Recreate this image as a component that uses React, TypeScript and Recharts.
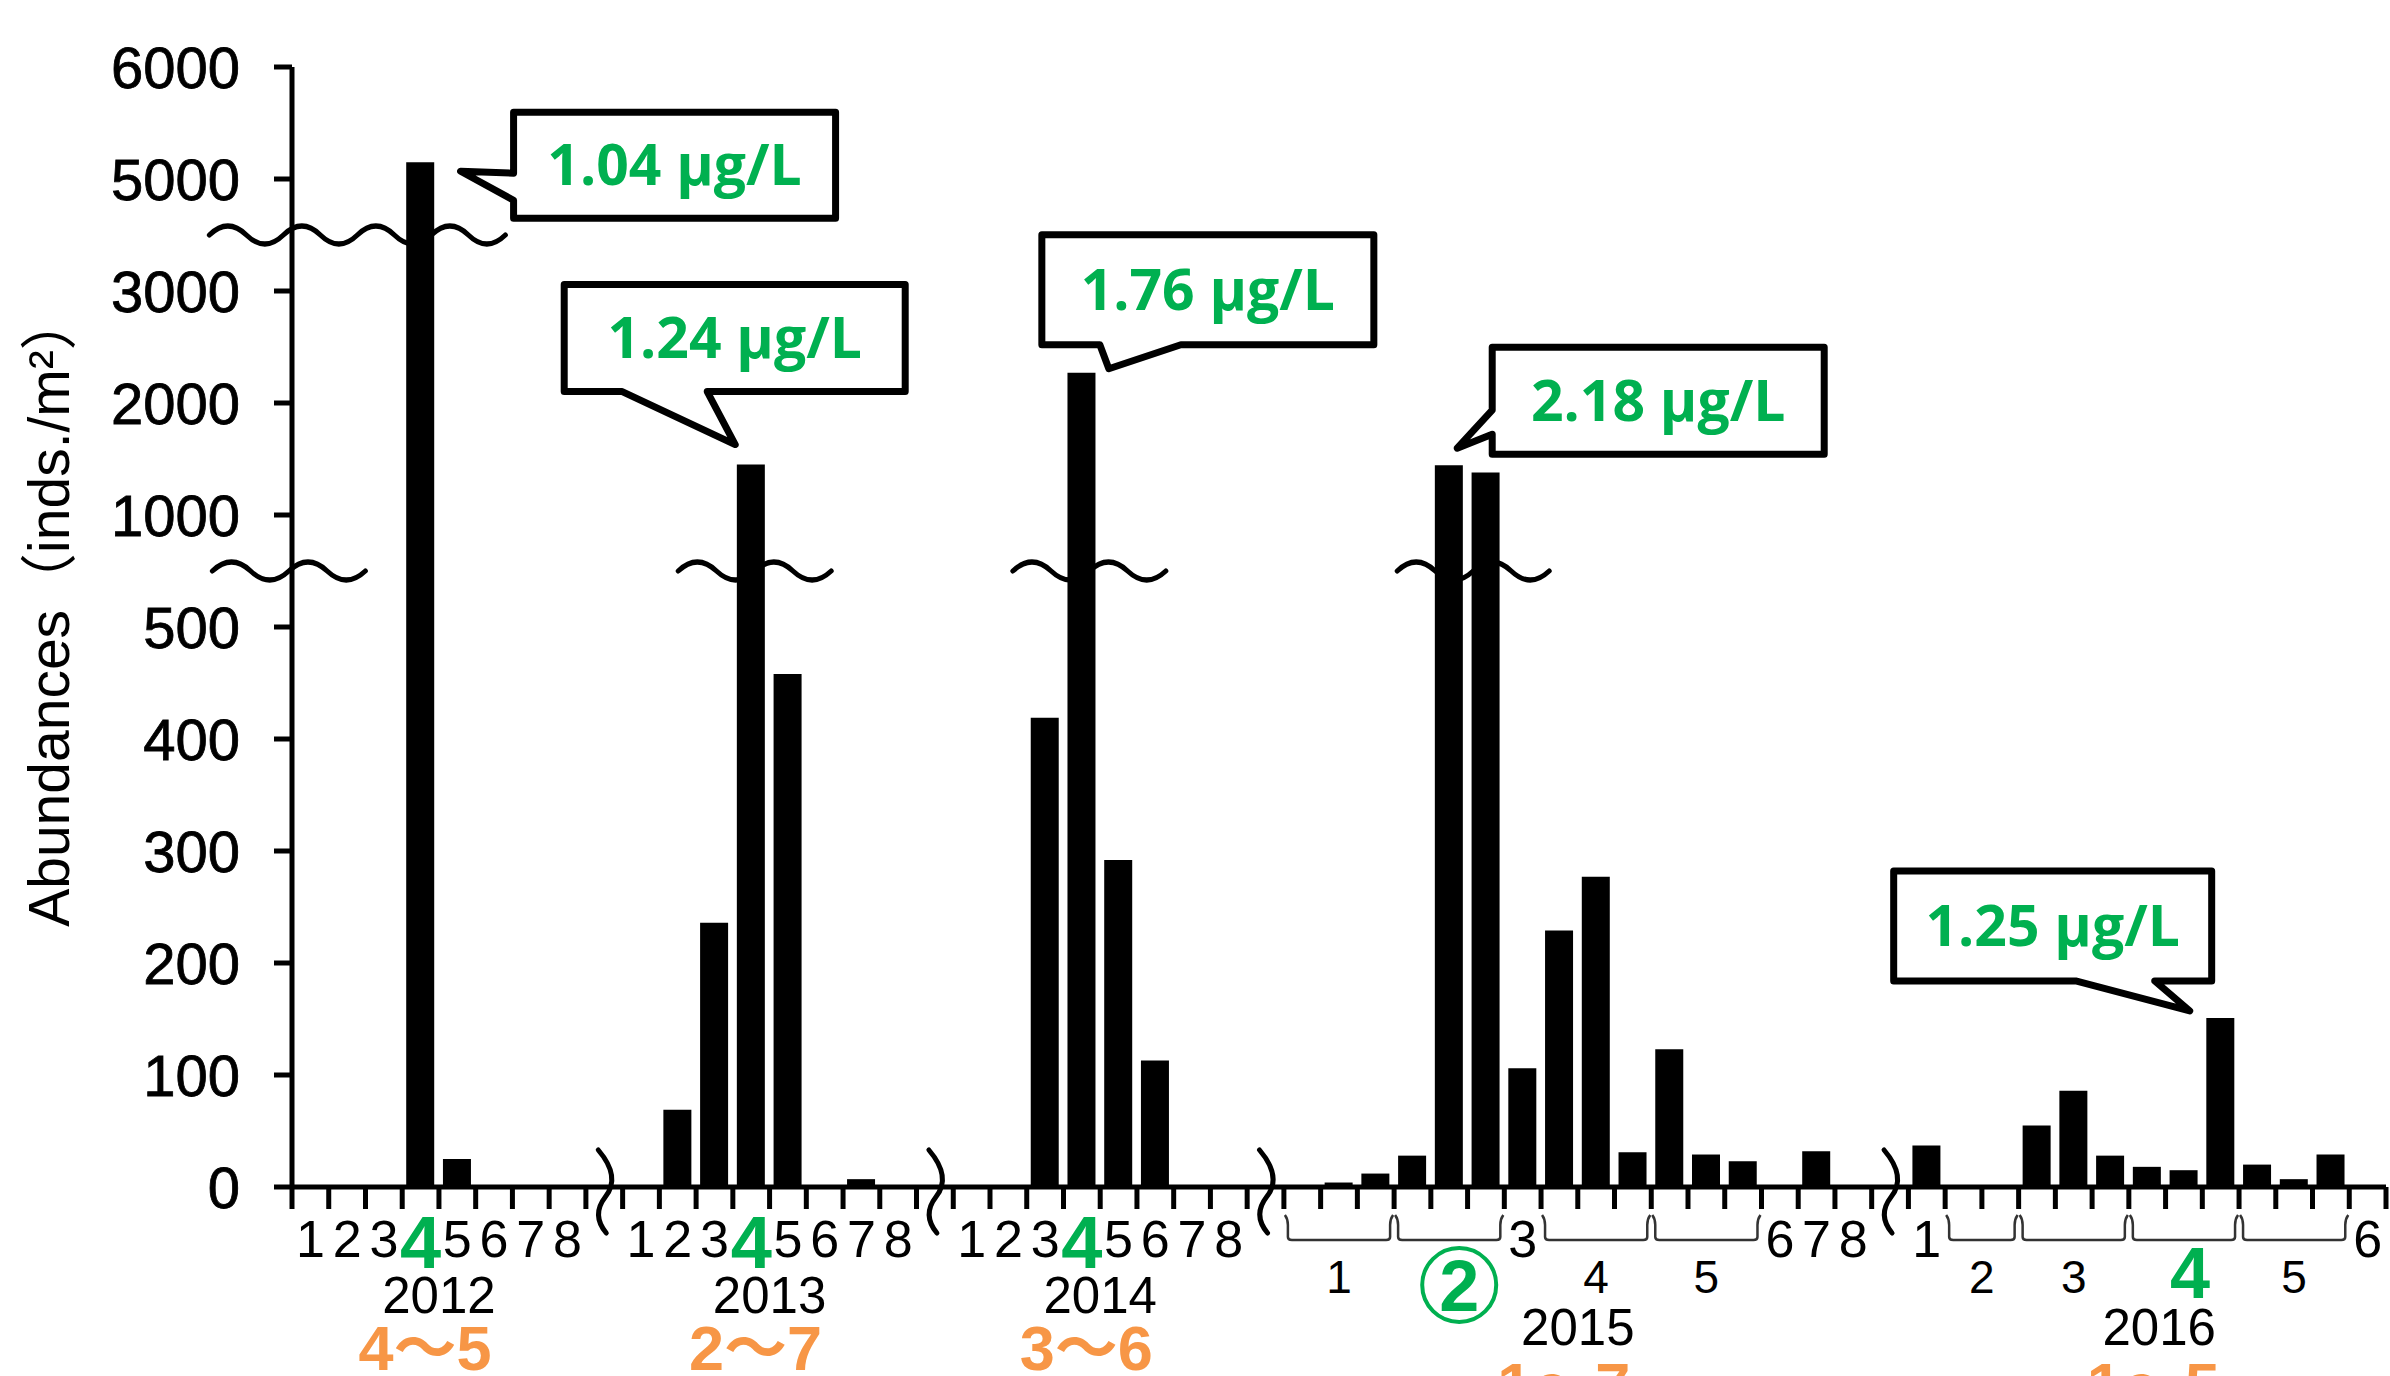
import React from 'react';
import { BarChart, Bar, XAxis, YAxis, ReferenceDot } from 'recharts';

// sampling years and the range of months sampled
const years = ['2012', '2013', '2014', '2015', '2016'];
const monthRanges = ['4～5', '2～7', '3～6', '1～7', '1～5'];

// month labels per year and how many samples fall in each month
const months = [
  ['1', '2', '3', '4', '5', '6', '7', '8'],
  ['1', '2', '3', '4', '5', '6', '7', '8'],
  ['1', '2', '3', '4', '5', '6', '7', '8'],
  ['1', '2', '3', '4', '5', '6', '7', '8'],
  ['1', '2', '3', '4', '5', '6'],
];
const samplesPerMonth = [
  [1, 1, 1, 1, 1, 1, 1, 1],
  [1, 1, 1, 1, 1, 1, 1, 1],
  [1, 1, 1, 1, 1, 1, 1, 1],
  [3, 3, 1, 3, 3, 1, 1, 1],
  [1, 2, 3, 3, 3, 1],
];

// abundances (inds./m2)
const abundance2012 = [0, 0, 0, 5150, 25, 0, 0, 0];
const abundance2013 = [0, 69, 236, 1450, 458, 0, 7, 0];
const abundance2014 = [0, 0, 419, 2270, 292, 113, 0, 0];
const abundance2015 = [0, 4, 12, 28, 1445, 1380, 106, 229, 277, 31, 123, 29, 23, 0, 32, 0];
const abundance2016 = [37, 0, 0, 55, 86, 28, 18, 15, 151, 20, 7, 29, 0];
const abundances = [abundance2012, abundance2013, abundance2014, abundance2015, abundance2016];

// peak month of each year (green), 2015 uses a circled mark
const peakMonths = ['4', '4', '4', '', '4'];
const circledMonths = ['', '', '', '2', ''];

// broken y axis
const yTickLabels = ['0', '100', '200', '300', '400', '500', '1000', '2000', '3000', '5000', '6000'];
const breakValues = [0, 500, 1000, 3000, 5000, 6000];
const breakSteps = [0, 5, 6, 8, 9, 10];

// concentration callouts
const calloutKeys = ['2012-4', '2013-4', '2014-4', '2015-2.2', '2016-4.3'];
const calloutTexts = ['1.04 μg/L', '1.24 μg/L', '1.76 μg/L', '2.18 μg/L', '1.25 μg/L'];

const toAxis = (v: number) => {
  for (let i = 0; i < breakValues.length - 1; i++) {
    if (v <= breakValues[i + 1]) {
      const t = (v - breakValues[i]) / (breakValues[i + 1] - breakValues[i]);
      return breakSteps[i] + t * (breakSteps[i + 1] - breakSteps[i]);
    }
  }
  return 10;
};

type Slot = {
  key: string;
  v: number | null;
  yi: number;
  gap: boolean;
  month?: string;
  pos?: number;
  count?: number;
  yearStart?: boolean;
  yearSlots?: number;
  last?: boolean;
};

const slots: Slot[] = [];
years.forEach((yr, yi) => {
  if (yi > 0) slots.push({ key: `gap-${yr}`, v: null, yi, gap: true });
  const total = samplesPerMonth[yi].reduce((a, b) => a + b, 0);
  let k = 0;
  months[yi].forEach((m, mi) => {
    const n = samplesPerMonth[yi][mi];
    for (let p = 0; p < n; p++) {
      slots.push({
        key: n === 1 ? `${yr}-${m}` : `${yr}-${m}.${p + 1}`,
        v: toAxis(abundances[yi][k]),
        yi,
        gap: false,
        month: m,
        pos: p,
        count: n,
        yearStart: k === 0,
        yearSlots: total,
      });
      k++;
    }
  });
});
slots[slots.length - 1].last = true;
const slotByKey: Record<string, Slot> = {};
slots.forEach((s) => (slotByKey[s.key] = s));

const W = 2390;
const H = 1376;
const M = { top: 67, right: 4, left: 0, bottom: 0 };
const Y_W = 292;
const X_H = 189;
const SLOT = (W - Y_W - M.right) / slots.length;

const AX_FONT = '"Liberation Sans", Arial, sans-serif';
const NARROW_FONT = '"Liberation Sans Narrow", "Arial Narrow", "Liberation Sans", sans-serif';
const CJK_FONT = '"Liberation Sans Narrow", "Liberation Sans", "Noto Sans CJK JP", sans-serif';
const GREEN = '#00b050';
const ORANGE = '#f79646';

const XTick = (props: any) => {
  const { x, y, payload } = props;
  const s = slotByKey[payload?.value];
  if (!s) return null;
  const left = x - SLOT / 2;
  const els: React.ReactNode[] = [];
  els.push(<line key="t" x1={left} x2={left} y1={y} y2={y + 22} stroke="#000" strokeWidth={5} />);
  if (s.last) {
    els.push(<line key="tr" x1={left + SLOT} x2={left + SLOT} y1={y} y2={y + 22} stroke="#000" strokeWidth={5} />);
  }
  if (s.gap) {
    els.push(
      <path
        key="brk"
        d={`M ${x - 6} ${y - 37} Q ${x + 17} ${y - 10} ${x + 1} ${y + 10} Q ${x - 13} ${y + 28} ${x + 2} ${y + 46}`}
        stroke="#000"
        strokeWidth={5}
        fill="none"
        strokeLinecap="round"
      />
    );
    return <g>{els}</g>;
  }
  const lowYear = samplesPerMonth[s.yi].some((n) => n > 1);
  if (s.pos === 0) {
    const n = s.count || 1;
    const isPeak = peakMonths[s.yi] === s.month;
    const isCircled = circledMonths[s.yi] === s.month;
    if (n === 1) {
      els.push(
        isPeak ? (
          <text key="m" x={x} y={y + 81} textAnchor="middle" fontFamily={NARROW_FONT} fontWeight="bold" fontSize={74} fill={GREEN}>
            {s.month}
          </text>
        ) : (
          <text key="m" x={x} y={y + 70} textAnchor="middle" fontFamily={NARROW_FONT} fontSize={52} fill="#000">
            {s.month}
          </text>
        )
      );
    } else {
      const x0 = left + 3;
      const x1 = left + n * SLOT - 3;
      const y0 = y + 28;
      const y1 = y + 53;
      const c = (x0 + x1) / 2;
      els.push(
        <path
          key="br"
          d={`M ${x0 - 2} ${y0} Q ${x0 + 1} ${y0 + 4} ${x0 + 1} ${y0 + 10} L ${x0 + 1} ${y1 - 3} Q ${x0 + 1} ${y1} ${x0 + 5} ${y1} L ${x1 - 5} ${y1} Q ${x1 - 1} ${y1} ${x1 - 1} ${y1 - 3} L ${x1 - 1} ${y0 + 10} Q ${x1 - 1} ${y0 + 4} ${x1 + 2} ${y0}`}
          stroke="#333"
          strokeWidth={2.5}
          fill="none"
        />
      );
      if (isCircled) {
        els.push(
          <g key="m">
            <circle cx={c + 10} cy={y + 98} r={37} stroke={GREEN} strokeWidth={4} fill="none" />
            <text x={c + 10} y={y + 124} textAnchor="middle" fontFamily={AX_FONT} fontWeight="bold" fontSize={72} fill={GREEN}>
              {s.month}
            </text>
          </g>
        );
      } else if (isPeak) {
        els.push(
          <text key="m" x={c + 6} y={y + 111} textAnchor="middle" fontFamily={NARROW_FONT} fontWeight="bold" fontSize={72} fill={GREEN}>
            {s.month}
          </text>
        );
      } else {
        els.push(
          <text key="m" x={c} y={y + 106} textAnchor="middle" fontFamily={AX_FONT} fontSize={46} fill="#000">
            {s.month}
          </text>
        );
      }
    }
  }
  if (s.yearStart) {
    const c = left + ((s.yearSlots || 1) * SLOT) / 2;
    els.push(
      <text key="yr" x={c + (s.yi === 4 ? 12 : 0)} y={y + (lowYear ? 158 : 126)} textAnchor="middle" fontFamily={AX_FONT} fontSize={51} fill="#000">
        {years[s.yi]}
      </text>
    );
    els.push(
      <text key="rg" x={c - 14 + (s.yi === 4 ? 20 : 0)} y={y + (lowYear ? 220 : 183)} textAnchor="middle" fontFamily={CJK_FONT} fontWeight="bold" fontSize={63} fill={ORANGE}>
        {monthRanges[s.yi]}
      </text>
    );
  }
  return <g>{els}</g>;
};

const wavePath = (x0: number, x1: number, yc: number) => {
  const halves = Math.max(2, Math.round((x1 - x0) / 38));
  const h = (x1 - x0) / halves;
  let d = `M ${x0} ${yc} Q ${x0 + h / 2} ${yc - 18} ${x0 + h} ${yc}`;
  for (let i = 2; i <= halves; i++) d += ` T ${x0 + i * h} ${yc}`;
  return d;
};

// wave marks: slot key, axis position of the break, extent around the slot centre
const waveKeys = ['2012-1', '2012-1', '2013-4', '2014-4', '2015-2.2'];
const waveSteps = [8.5, 5.5, 5.5, 5.5, 5.5];
const waveExtent = [
  [-101, 195],
  [-98, 55],
  [-73, 80],
  [-69, 84],
  [-52, 100],
];

// callout geometry relative to the bar top: box [dx, dy, w, h], notch side and points, tip
const calloutLayout = [
  { box: [93, -50, 322, 106], side: 'left', a: 11, b: 38, tip: [40, 9] },
  { box: [-187, -180, 341, 107], side: 'bottom', a: -129, b: -44, tip: [-16, -20] },
  { box: [-40, -138, 332, 110], side: 'bottom', a: 18, b: 99, tip: [27, -4] },
  { box: [43, -118, 332, 107], side: 'left', a: -55, b: -31, tip: [8, -17] },
  { box: [-327, -147, 318, 110], side: 'bottom', a: -145, b: -66, tip: [-31, -7] },
];

const Callout = ({ cx, cy, i }: { cx: number; cy: number; i: number }) => {
  const c = calloutLayout[i];
  const L = cx + c.box[0];
  const T = cy + c.box[1];
  const R = L + c.box[2];
  const B = T + c.box[3];
  const tx = cx + c.tip[0];
  const ty = cy + c.tip[1];
  const pts =
    c.side === 'left'
      ? [[L, T], [R, T], [R, B], [L, B], [L, cy + c.b], [tx, ty], [L, cy + c.a]]
      : [[L, T], [R, T], [R, B], [cx + c.b, B], [tx, ty], [cx + c.a, B], [L, B]];
  const d = 'M ' + pts.map((p) => `${p[0]} ${p[1]}`).join(' L ') + ' Z';
  return (
    <g>
      <path d={d} fill="#fff" stroke="#000" strokeWidth={7} strokeLinejoin="round" />
      <text x={(L + R) / 2} y={(T + B) / 2 + 20} textAnchor="middle" fontFamily='"Open Sans", sans-serif' fontWeight="bold" fontSize={57} fill={GREEN}>
        {calloutTexts[i]}
      </text>
    </g>
  );
};

const YLabel = (props: any) => {
  const vb = props.viewBox || {};
  const cy = vb.height ? vb.y + vb.height / 2 - 17 : 610;
  return (
    <text x={49} y={cy} transform={`rotate(-90 49 ${cy})`} textAnchor="middle" dominantBaseline="central" fontFamily='"Liberation Sans", "Noto Sans CJK JP", sans-serif' fontSize={57} fill="#000">
      Abundances（inds./m²）
    </text>
  );
};

const App: React.FC = () => {
  return (
    <div style={{ position: 'absolute', left: 0, top: 0, background: '#fff' }}>
      <BarChart width={W} height={H} data={slots} margin={M}>
        <XAxis
          dataKey="key"
          type="category"
          interval={0}
          height={X_H}
          tickLine={false}
          tickSize={0}
          tickMargin={0}
          axisLine={{ stroke: '#000', strokeWidth: 5 }}
          tick={(p: any) => <XTick {...p} />}
        />
        <XAxis xAxisId="top" dataKey="key" orientation="top" height={0} tick={false} tickLine={false} axisLine={{ stroke: '#000', strokeWidth: 5 }} />
        <YAxis
          type="number"
          domain={[0, 10]}
          ticks={yTickLabels.map((_, i) => i)}
          interval={0}
          width={Y_W}
          tickSize={18}
          tickMargin={34}
          tickLine={{ stroke: '#000', strokeWidth: 5 }}
          axisLine={{ stroke: '#000', strokeWidth: 5 }}
          tick={{ fontSize: 58, fill: '#000', fontFamily: AX_FONT, stroke: '#000', strokeWidth: 0.8 }}
          tickFormatter={(v: number) => yTickLabels[v] ?? ''}
          label={<YLabel />}
        />
        <YAxis yAxisId="right" orientation="right" width={0} domain={[0, 10]} tick={false} tickLine={false} axisLine={{ stroke: '#000', strokeWidth: 5 }} />
        <Bar dataKey="v" fill="#000" barSize={28} isAnimationActive={false} />
        {waveKeys.map((k, i) => (
          <ReferenceDot
            key={`w${i}`}
            x={k}
            y={waveSteps[i]}
            r={1}
            ifOverflow="visible"
            shape={(p: any) => (
              <path d={wavePath(p.cx + waveExtent[i][0], p.cx + waveExtent[i][1], p.cy)} stroke="#000" strokeWidth={5} fill="none" strokeLinecap="round" />
            )}
          />
        ))}
        {calloutKeys.map((k, i) => (
          <ReferenceDot
            key={`c${i}`}
            x={k}
            y={slotByKey[k].v as number}
            r={1}
            ifOverflow="visible"
            shape={(p: any) => <Callout cx={p.cx} cy={p.cy} i={i} />}
          />
        ))}
      </BarChart>
    </div>
  );
};

export default App;
